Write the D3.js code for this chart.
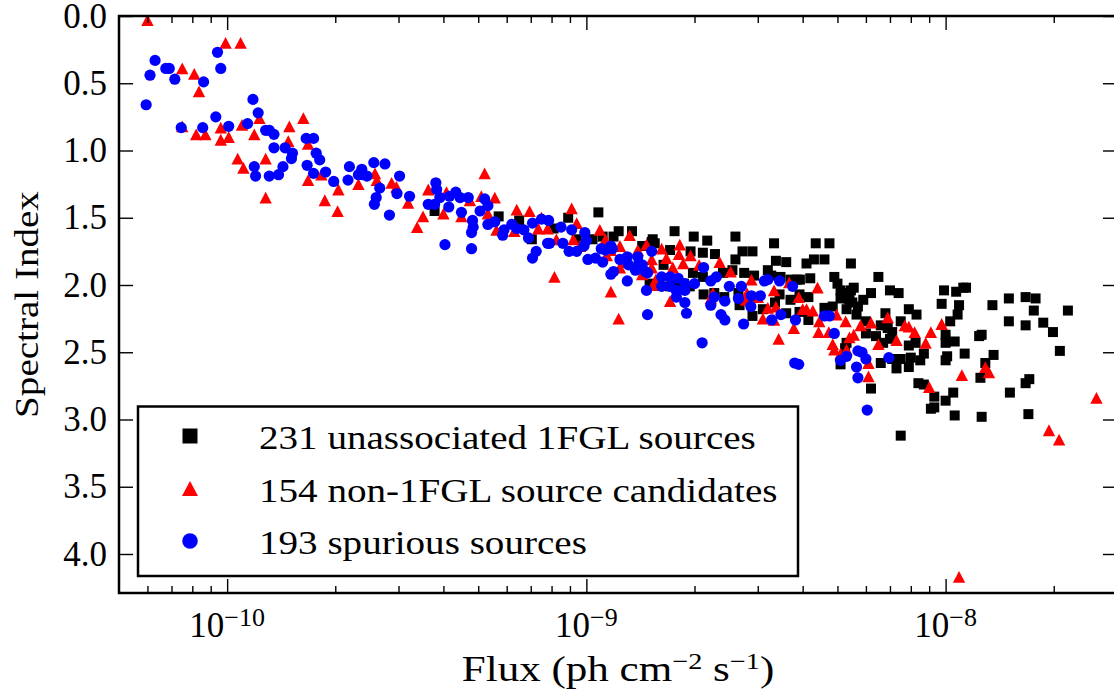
<!DOCTYPE html>
<html><head><meta charset="utf-8">
<script src="https://cdn.jsdelivr.net/npm/d3@7"></script>
<style>body{margin:0;background:#fff;} svg text{font-family:"Liberation Serif","Times New Roman",Times,serif !important;fill:#000;}</style>
</head><body><svg id="chart" width="1114" height="696"></svg>
<script>
// ---- data: [flux (ph cm^-2 s^-1), spectral index] ----
const blackSources = [[5.7e-10,1.49],[3.78e-10,1.45],[6.5e-10,1.52],[8.1e-10,1.58],[8.9e-10,1.50],[1.08e-9,1.46],[7.05e-10,1.66],[1.04e-9,1.66],[1.19e-9,1.64],[1.23e-9,1.60],[1.34e-9,1.60],[1.53e-9,1.66],[1.11e-9,1.64],[1.50e-9,1.99],[1.76e-9,1.60],[1.99e-9,1.64],[2.17e-9,1.67],[2.60e-9,1.64],[3.33e-9,1.69],[4.35e-9,1.69],[4.75e-9,1.69],[1.71e-9,1.74],[1.95e-9,1.75],[2.11e-9,1.76],[2.28e-9,1.77],[2.72e-9,1.75],[2.90e-9,1.75],[2.60e-9,1.81],[3.37e-9,1.82],[3.6e-9,1.83],[4.1e-9,1.84],[4.3e-9,1.81],[4.6e-9,1.81],[1.52e-9,1.68],[1.55e-9,1.69],[1.64e-9,1.85],[1.98e-9,1.91],[2.11e-9,1.94],[2.4e-9,1.91],[2.55e-9,1.89],[2.75e-9,1.91],[2.93e-9,1.93],[3.2e-9,1.89],[3.27e-9,1.93],[3.47e-9,1.94],[3.7e-9,1.96],[3.85e-9,1.96],[3.93e-9,1.96],[4.2e-9,1.95],[4.9e-9,1.94],[5.0e-9,1.99],[5.1e-9,2.04],[5.3e-9,2.06],[5.45e-9,2.04],[5.55e-9,2.02],[5.35e-9,2.10],[5.5e-9,2.13],[5.1e-9,2.10],[2.12e-9,2.07],[2.27e-9,2.06],[2.42e-9,2.09],[2.67e-9,2.15],[2.8e-9,2.11],[2.9e-9,2.23],[3.1e-9,2.18],[3.35e-9,2.13],[3.45e-9,2.07],[3.7e-9,2.11],[3.92e-9,2.07],[4.15e-9,2.09],[4.15e-9,2.26],[3.92e-9,2.20],[4.6e-9,2.17],[4.85e-9,2.16],[5.3e-9,2.43],[5.25e-9,2.47],[5.1e-9,2.59],[3.6e-9,2.21],[2.65e-9,2.06],[1.43e-9,1.71],[1.78e-9,1.97],[1.71e-9,2.01],[1.87e-9,1.99],[1.94e-9,2.01],[6.5e-9,1.94],[7.0e-9,2.04],[7.4e-9,2.06],[9.9e-9,2.04],[1.07e-8,2.05],[1.12e-8,2.02],[1.14e-8,2.02],[9.75e-9,2.14],[1.09e-8,2.15],[1.08e-8,2.22],[1.03e-8,2.27],[1.35e-8,2.15],[1.5e-8,2.10],[1.67e-8,2.09],[1.78e-8,2.10],[1.76e-8,2.19],[2.19e-8,2.19],[1.5e-8,2.27],[1.67e-8,2.30],[1.87e-8,2.28],[1.99e-8,2.35],[2.08e-8,2.49],[1.26e-8,2.37],[1.24e-8,2.38],[1.13e-8,2.51],[1.36e-8,2.52],[1.29e-8,2.58],[1.25e-8,2.69],[1.51e-8,2.80],[1.67e-8,2.73],[1.71e-8,2.70],[1.70e-8,2.96],[1.26e-8,2.98],[1.05e-8,2.80],[1.0e-8,2.86],[1.06e-8,2.97],[9.3e-9,2.83],[9.1e-9,2.92],[8.4e-9,2.73],[8.7e-9,2.74],[6.2e-9,2.77],[6.6e-9,2.58],[7.5e-9,2.55],[7.9e-9,2.61],[8.0e-9,2.54],[8.5e-9,2.56],[7.9e-9,2.45],[8.7e-9,2.51],[8.25e-9,2.43],[1.0e-8,2.56],[1.01e-8,2.53],[1.0e-8,2.37],[1.06e-8,2.42],[1.0e-8,2.43],[7.9e-9,2.18],[8.3e-9,2.22],[6.8e-9,2.21],[6.6e-9,2.30],[6.9e-9,2.32],[7.1e-9,2.35],[6.7e-9,2.43],[7.0e-9,2.40],[7.5e-9,2.27],[6.0e-9,2.27],[6.0e-9,2.36],[6.4e-9,2.38],[6.2e-9,2.06],[5.9e-9,2.11],[5.7e-9,2.16],[5.4e-9,2.11],[5.2e-9,2.08],[5.3e-9,2.18],[5.65e-9,2.22],[7.1e-9,2.55],[7.3e-9,2.62],[9.3e-9,2.91],[7.5e-9,3.12],[9.4e-10,1.66],[5.45e-9,1.84]];

const redSources = [[6.0e-11,0.03],[9.9e-11,0.20],[1.09e-10,0.20],[7.5e-11,0.39],[8.1e-11,0.43],[8.35e-11,0.56],[7.5e-11,0.82],[8.2e-11,0.88],[8.7e-11,0.88],[9.6e-11,0.83],[9.6e-11,0.92],[1.01e-10,0.90],[1.10e-10,0.81],[1.19e-10,0.88],[1.23e-10,0.76],[1.49e-10,0.82],[1.63e-10,0.76],[1.48e-10,0.93],[1.68e-10,0.95],[1.07e-10,1.06],[1.11e-10,1.13],[1.28e-10,1.06],[1.28e-10,1.35],[1.68e-10,1.22],[1.83e-10,1.18],[1.87e-10,1.37],[2.04e-10,1.29],[2.03e-10,1.45],[2.32e-10,1.25],[2.58e-10,1.17],[2.61e-10,1.22],[2.87e-10,1.24],[2.96e-10,1.27],[3.19e-10,1.39],[3.51e-10,1.49],[3.38e-10,1.57],[3.63e-10,1.29],[4.08e-10,1.31],[4.0e-10,1.47],[4.49e-10,1.49],[4.74e-10,1.37],[5.56e-10,1.35],[5.21e-10,1.17],[5.62e-10,1.59],[5.32e-10,1.47],[6.4e-10,1.44],[6.95e-10,1.45],[7.5e-10,1.50],[6.3e-10,1.60],[7.35e-10,1.58],[7.8e-10,1.58],[8.25e-10,1.66],[9.1e-10,1.43],[9.4e-10,1.54],[9.2e-10,1.66],[9.6e-10,1.71],[8.15e-10,1.94],[1.09e-9,1.59],[1.17e-9,1.74],[1.14e-9,1.78],[1.17e-9,2.05],[1.23e-9,2.25],[1.32e-9,1.63],[1.24e-9,1.71],[1.39e-9,1.74],[1.47e-9,1.70],[1.24e-9,1.87],[1.52e-9,1.87],[1.56e-9,1.96],[1.62e-9,1.73],[1.82e-9,1.70],[1.81e-9,1.77],[1.86e-9,1.84],[1.74e-9,1.87],[1.71e-9,2.12],[1.43e-9,1.92],[1.52e-9,1.81],[1.54e-9,2.00],[3.43e-9,2.40],[2.88e-9,1.96],[2.52e-9,1.90],[3.33e-9,2.04],[3.37e-9,2.16],[3.2e-9,2.17],[3.1e-9,2.25],[3.33e-9,2.26],[3.78e-9,2.32],[4.1e-9,2.18],[4.4e-9,2.02],[4.27e-9,2.19],[4.45e-9,2.27],[4.43e-9,2.35],[4.73e-9,2.35],[4.97e-9,2.22],[5.27e-9,2.27],[5.55e-9,2.37],[4.9e-9,2.48],[5.3e-9,2.48],[4.85e-9,2.44],[2.25e-9,2.06],[2.22e-9,2.10],[2.8e-9,2.06],[3.0e-9,2.09],[6.2e-9,2.28],[7.7e-9,2.30],[8.2e-9,2.35],[9.1e-9,2.35],[9.75e-9,2.29],[7.3e-9,2.41],[6.5e-9,2.44],[8.8e-9,2.43],[6.1e-9,2.58],[6.1e-9,2.68],[9.0e-9,2.76],[1.11e-8,2.67],[1.29e-8,2.61],[1.32e-8,2.65],[2.63e-8,2.84],[1.94e-8,3.08],[2.07e-8,3.15],[1.09e-8,4.17],[4.0e-9,2.18],[5.1e-9,2.51],[5.1e-10,1.34],[1.13e-9,1.66],[1.28e-9,1.83],[1.67e-9,1.80],[1.95e-9,1.78],[2.06e-9,1.85],[2.35e-9,1.83],[2.78e-9,2.11],[3.67e-9,1.98],[3.9e-9,2.09],[5.8e-9,2.30],[5.4e-9,2.39],[6.9e-9,2.24],[7.9e-9,2.31]];

const blueSources = [[5.95e-11,0.66],[6.1e-11,0.44],[6.3e-11,0.33],[6.75e-11,0.39],[6.9e-11,0.39],[7.15e-11,0.47],[8.6e-11,0.49],[9.4e-11,0.27],[9.6e-11,0.39],[7.45e-11,0.83],[8.55e-11,0.83],[9.3e-11,0.75],[1.01e-10,0.82],[1.14e-10,0.80],[1.18e-10,0.62],[1.22e-10,0.72],[1.28e-10,0.85],[1.31e-10,0.85],[1.35e-10,0.88],[1.35e-10,0.98],[1.45e-10,0.98],[1.52e-10,1.02],[1.51e-10,1.06],[1.19e-10,1.12],[1.20e-10,1.19],[1.31e-10,1.19],[1.39e-10,1.18],[1.43e-10,1.12],[1.66e-10,0.91],[1.74e-10,0.91],[1.77e-10,1.02],[1.81e-10,1.07],[1.67e-10,1.11],[1.74e-10,1.17],[1.88e-10,1.16],[1.98e-10,1.23],[2.19e-10,1.12],[2.17e-10,1.22],[2.37e-10,1.14],[2.38e-10,1.18],[2.45e-10,1.19],[2.56e-10,1.09],[2.75e-10,1.10],[2.66e-10,1.28],[2.60e-10,1.35],[2.57e-10,1.40],[2.83e-10,1.48],[3.02e-10,1.19],[2.97e-10,1.32],[3.22e-10,1.34],[3.81e-10,1.24],[3.83e-10,1.29],[3.63e-10,1.40],[3.78e-10,1.40],[3.91e-10,1.35],[4.16e-10,1.34],[4.33e-10,1.31],[4.14e-10,1.42],[4.49e-10,1.46],[4.69e-10,1.35],[4.82e-10,1.52],[4.84e-10,1.57],[4.79e-10,1.61],[5.06e-10,1.45],[5.21e-10,1.36],[5.32e-10,1.41],[5.32e-10,1.55],[5.56e-10,1.53],[5.85e-10,1.63],[4.04e-10,1.70],[4.79e-10,1.73],[4.45e-10,1.35],[2.32e-10,1.18],[5.9e-10,1.59],[6.2e-10,1.55],[6.4e-10,1.58],[6.7e-10,1.59],[6.9e-10,1.65],[7.08e-10,1.54],[7.5e-10,1.51],[7.85e-10,1.52],[7.25e-10,1.75],[7.08e-10,1.80],[7.8e-10,1.69],[7.9e-10,1.69],[8.5e-10,1.57],[8.6e-10,1.69],[9.1e-10,1.59],[8.95e-10,1.75],[9.4e-10,1.75],[9.9e-10,1.61],[1.0e-9,1.67],[9.85e-10,1.71],[1.01e-9,1.81],[1.06e-9,1.80],[1.11e-9,1.83],[1.17e-9,1.71],[1.10e-9,1.73],[1.17e-9,1.92],[1.19e-9,1.90],[1.24e-9,1.81],[1.30e-9,1.79],[1.31e-9,1.85],[1.30e-9,1.97],[1.39e-9,1.79],[1.40e-9,1.84],[1.37e-9,1.89],[1.46e-9,1.90],[1.48e-9,1.91],[1.52e-9,1.75],[1.47e-9,2.04],[1.48e-9,2.22],[1.13e-9,1.74],[1.18e-9,1.73],[1.43e-9,1.85],[1.62e-9,1.94],[1.62e-9,2.01],[1.71e-9,1.94],[1.80e-9,1.95],[1.71e-9,2.01],[1.78e-9,2.04],[1.88e-9,1.99],[1.88e-9,2.04],[2.0e-9,1.99],[1.78e-9,2.09],[1.88e-9,2.13],[1.90e-9,2.21],[2.12e-9,1.87],[2.22e-9,1.97],[2.30e-9,1.94],[2.5e-9,2.01],[2.7e-9,2.01],[2.65e-9,2.10],[2.87e-9,2.16],[2.88e-9,2.08],[3.05e-9,2.08],[2.22e-9,2.15],[2.27e-9,2.09],[2.43e-9,2.12],[2.37e-9,2.22],[2.43e-9,2.26],[2.74e-9,2.29],[2.1e-9,2.43],[3.13e-9,1.97],[3.2e-9,1.96],[3.45e-9,1.97],[3.75e-9,2.01],[3.48e-9,2.22],[3.28e-9,2.26],[3.82e-9,2.26],[4.6e-9,2.23],[4.9e-9,2.36],[5.1e-9,2.56],[5.3e-9,2.53],[5.65e-9,2.61],[5.7e-9,2.49],[5.7e-9,2.69],[3.8e-9,2.58],[3.9e-9,2.59],[5.85e-9,2.50],[6.0e-9,2.55],[6.95e-9,2.54],[6.05e-9,2.93],[4.75e-9,2.23]];

const yTickValues = [0, 0.5, 1.0, 1.5, 2.0, 2.5, 3.0, 3.5, 4.0];
const xMajorTicks = [1e-10, 1e-9, 1e-8];
const xTickExponents = ["\u221210", "\u22129", "\u22128"];
const legendLabels = ["231 unassociated 1FGL sources", "154 non-1FGL source candidates", "193 spurious sources"];
const seriesColors = ["#000000", "#ff0000", "#0000ff"];
const seriesShapes = ["square", "triangle", "circle"];

// ---- layout ----
const svg = d3.select("#chart");
svg.append("rect").attr("width", 1114).attr("height", 696).attr("fill", "#fff");
const L = 119, R = 1117, T = 16, B = 593;
const x = d3.scaleLog().domain([5e-11, 3e-8]).range([L, R]);
const y = d3.scaleLinear().domain([0, 4.29]).range([T, B]);
const stretch = 1.15;  // widen Times-like glyphs toward Computer Modern proportions
const serif = t => t.style("font-family", '"Liberation Serif","Times New Roman",serif');

function shapePath(shape, s) {
  if (shape === "square") return `M${-s/2},${-s/2}h${s}v${s}h${-s}Z`;
  if (shape === "triangle") { const h = s*0.95; return `M0,${-h/2}L${s/2},${h/2}L${-s/2},${h/2}Z`; }
  const r = s/2;
  return `M${r},0A${r},${r} 0 1,1 ${-r},0A${r},${r} 0 1,1 ${r},0Z`;
}

svg.append("defs").append("clipPath").attr("id", "plotclip")
  .append("rect").attr("x", L).attr("y", T).attr("width", R - L).attr("height", B - T);

const plot = svg.append("g").attr("clip-path", "url(#plotclip)");
const seriesData = [blackSources, redSources, blueSources];
const markerSize = [10, 12.4, 11.2];
seriesData.forEach((data, i) => {
  plot.append("g").selectAll("path").data(data).join("path")
    .attr("transform", d => `translate(${x(d[0])},${y(d[1])})`)
    .attr("d", shapePath(seriesShapes[i], markerSize[i]))
    .attr("fill", seriesColors[i]);
});

// ---- axes (ticks inward) ----
const minorTicks = [];
[-11, -10, -9, -8].forEach(e => { for (let m = 2; m <= 9; m++) { const v = m * Math.pow(10, e); if (v > 5.01e-11 && v < 2.99e-8) minorTicks.push(v); } });

function styleAxis(g) { g.select(".domain").remove(); g.selectAll(".tick line").attr("stroke", "#000").attr("stroke-width", 1.4); }
svg.append("g").attr("transform", `translate(0,${B})`).call(d3.axisBottom(x).tickValues(xMajorTicks).tickSize(-14).tickFormat("")).call(styleAxis);
svg.append("g").attr("transform", `translate(0,${B})`).call(d3.axisBottom(x).tickValues(minorTicks).tickSize(-7).tickFormat("")).call(styleAxis);
svg.append("g").attr("transform", `translate(0,${T})`).call(d3.axisTop(x).tickValues(xMajorTicks).tickSize(-14).tickFormat("")).call(styleAxis);
svg.append("g").attr("transform", `translate(0,${T})`).call(d3.axisTop(x).tickValues(minorTicks).tickSize(-7).tickFormat("")).call(styleAxis);
const yl = svg.append("g").attr("transform", `translate(${L},0)`)
  .call(d3.axisLeft(y).tickValues(yTickValues).tickSize(-14).tickPadding(12).tickFormat(d3.format(".1f"))).call(styleAxis);
yl.selectAll(".tick text").call(serif).style("font-size", "35px").attr("fill", "#000");
svg.append("g").attr("transform", `translate(${R},0)`)
  .call(d3.axisRight(y).tickValues(yTickValues).tickSize(-14).tickFormat("")).call(styleAxis);

// x tick labels 10^n
xMajorTicks.forEach((v, i) => {
  const t = svg.append("text").attr("x", x(v)).attr("y", 637).attr("text-anchor", "middle")
    .call(serif).style("font-size", "35px");
  t.append("tspan").text("10");
  t.append("tspan").style("font-size", "26px").attr("dy", -11).text(xTickExponents[i]);
});

// spines
svg.append("rect").attr("x", L).attr("y", T).attr("width", R - L).attr("height", B - T)
  .attr("fill", "none").attr("stroke", "#000").attr("stroke-width", 2.5);

// axis labels
const xlab = svg.append("g").attr("transform", `translate(${(L + R) / 2},681)scale(1.23,1)`)
  .append("text").attr("text-anchor", "middle").call(serif).style("font-size", "35px");
xlab.append("tspan").text("Flux (ph cm");
xlab.append("tspan").style("font-size", "23px").attr("dy", -12).text("\u22122");
xlab.append("tspan").attr("dy", 12).text(" s");
xlab.append("tspan").style("font-size", "23px").attr("dy", -12).text("\u22121");
xlab.append("tspan").attr("dy", 12).text(")");

svg.append("g").attr("transform", `translate(38,${(T + B) / 2})rotate(-90)scale(${stretch},1)`)
  .append("text").attr("text-anchor", "middle").call(serif).style("font-size", "34px").text("Spectral Index");

// legend
const leg = svg.append("g");
leg.append("rect").attr("x", 138).attr("y", 406.5).attr("width", 660).attr("height", 169.5)
  .attr("fill", "#fff").attr("stroke", "#000").attr("stroke-width", 2.5);
legendLabels.forEach((lab, i) => {
  const cy = 436 + i * 52.5;
  leg.append("path").attr("transform", `translate(190,${cy})`)
    .attr("d", shapePath(seriesShapes[i], [15, 16, 15.5][i])).attr("fill", seriesColors[i]);
  leg.append("g").attr("transform", `translate(259,${cy + 13.3})scale(${stretch},1)`)
    .append("text").call(serif).style("font-size", "34px").text(lab);
});
</script></body></html>
